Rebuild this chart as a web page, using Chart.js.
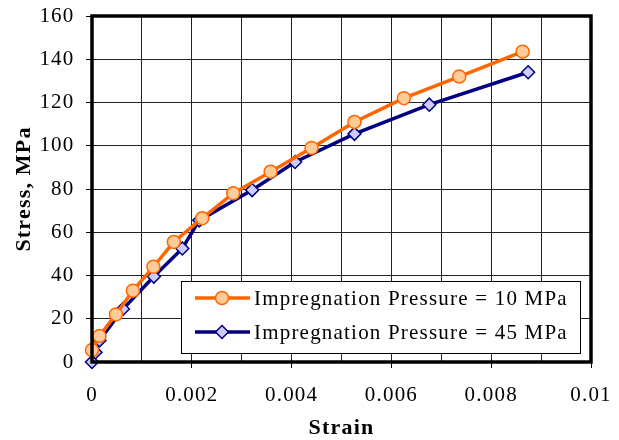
<!DOCTYPE html>
<html>
<head>
<meta charset="utf-8">
<script src="https://cdn.jsdelivr.net/npm/chart.js@4.4.0/dist/chart.umd.min.js"></script>
<style>
  html, body { margin: 0; padding: 0; background: #fff; }
</style>
</head>
<body>
<canvas id="stressChart" width="619" height="440"></canvas>
<script>
// Stress-strain readings for the two impregnation pressures
const strain10 = [0, 0.00015, 0.00048, 0.00082, 0.00123, 0.00164, 0.00221, 0.00283, 0.00358, 0.0044, 0.00526, 0.00625, 0.00736, 0.00863];
const stress10 = [5.5, 12, 22, 33, 44, 55.5, 66.5, 78, 88, 99, 111, 122, 132, 143.5];
const strain45 = [0, 0.00007, 0.00015, 0.00062, 0.00124, 0.00181, 0.00215, 0.00321, 0.00407, 0.00526, 0.00676, 0.00874];
const stress45 = [0, 4.5, 10, 24.5, 39.5, 52.5, 65.5, 79.5, 92.5, 105.5, 119, 134];
const seriesNames = ["Impregnation Pressure = 10 MPa", "Impregnation Pressure = 45 MPa"];

const xMin = 0, xMax = 0.01, xStep = 0.001;
const yMin = 0, yMax = 160, yStep = 20;

const SERIF = "'Liberation Serif', 'Times New Roman', serif";
const SPACING = "1.2px";

function toPoints(xs, ys) {
  return xs.map((x, i) => ({ x: x, y: ys[i] }));
}

// Wider letter spacing for every text drawn on the canvas
const spacingPlugin = {
  id: "letterSpacing",
  beforeUpdate(chart) { chart.ctx.letterSpacing = SPACING; },
  beforeDraw(chart) { chart.ctx.letterSpacing = SPACING; },
};

// Thick frame around the plot area plus the boxed legend inside it
const framePlugin = {
  id: "frameAndLegend",
  afterDatasetsDraw(chart) {
    const { ctx, chartArea } = chart;
    ctx.save();
    ctx.strokeStyle = "#000";
    ctx.lineWidth = 3.5;
    ctx.strokeRect(chartArea.left, chartArea.top,
      chartArea.right - chartArea.left, chartArea.bottom - chartArea.top);

    // legend box
    const bx = 181, by = 281, bw = 399, bh = 72;
    ctx.fillStyle = "#fff";
    ctx.fillRect(bx, by, bw, bh);
    ctx.lineWidth = 1;
    ctx.strokeStyle = "#000";
    ctx.strokeRect(bx + 0.5, by + 0.5, bw, bh);

    chart.data.datasets.forEach((ds, i) => {
      const y = by + 17 + i * 34;
      ctx.strokeStyle = ds.borderColor;
      ctx.lineWidth = ds.borderWidth;
      ctx.beginPath();
      ctx.moveTo(bx + 14, y);
      ctx.lineTo(bx + 69, y);
      ctx.stroke();

      const mx = bx + 41, r = ds.pointRadius;
      ctx.fillStyle = ds.pointBackgroundColor;
      ctx.strokeStyle = ds.pointBorderColor;
      ctx.lineWidth = ds.pointBorderWidth;
      ctx.beginPath();
      if (ds.pointStyle === "circle") {
        ctx.arc(mx, y, r, 0, Math.PI * 2);
      } else {
        ctx.moveTo(mx, y - r);
        ctx.lineTo(mx + r, y);
        ctx.lineTo(mx, y + r);
        ctx.lineTo(mx - r, y);
        ctx.closePath();
      }
      ctx.fill();
      ctx.stroke();

      ctx.fillStyle = "#000";
      ctx.font = "21px " + SERIF;
      ctx.letterSpacing = SPACING;
      ctx.textAlign = "left";
      ctx.textBaseline = "middle";
      ctx.fillText(ds.label, bx + 73, y + 1);
    });
    ctx.restore();
  }
};

new Chart(document.getElementById("stressChart"), {
  type: "scatter",
  data: {
    datasets: [
      {
        label: seriesNames[0],
        data: toPoints(strain10, stress10),
        showLine: true,
        clip: false,
        borderColor: "#ff6600",
        borderWidth: 3.5,
        pointStyle: "circle",
        pointRadius: 6.5,
        pointBackgroundColor: "#ffcc99",
        pointBorderColor: "#ff6600",
        pointBorderWidth: 1.5,
      },
      {
        label: seriesNames[1],
        data: toPoints(strain45, stress45),
        showLine: true,
        clip: false,
        borderColor: "#000080",
        borderWidth: 3.5,
        pointStyle: "rectRot",
        pointRadius: 6.5,
        pointBackgroundColor: "#ccccff",
        pointBorderColor: "#000080",
        pointBorderWidth: 1.5,
      },
    ],
  },
  options: {
    responsive: false,
    animation: false,
    layout: { padding: { left: 0, top: 16, right: 28, bottom: 0 } },
    plugins: {
      legend: { display: false },
      tooltip: { enabled: false },
    },
    scales: {
      x: {
        type: "linear",
        min: xMin,
        max: xMax,
        afterFit(scale) {
          scale.height = 78;
          scale.paddingLeft = 0;
          scale.paddingRight = 0;
        },
        ticks: {
          stepSize: xStep,
          maxTicksLimit: 20,
          autoSkip: false,
          maxRotation: 0,
          padding: 15,
          color: "#000",
          font: { family: SERIF, size: 21 },
          callback(value) {
            const k = Math.round(value * 1000);
            return k % 2 === 0 ? String(k / 1000) : "";
          },
        },
        grid: {
          color: "#222",
          lineWidth: 1,
          tickLength: 6,
          tickColor(ctx) {
            const k = Math.round(ctx.tick.value * 1000);
            return k % 2 === 0 ? "#000" : "rgba(0,0,0,0)";
          },
        },
        border: { display: false },
        title: {
          display: true,
          text: "Strain",
          color: "#000",
          font: { family: SERIF, size: 22, weight: "bold", lineHeight: 1.1 },
          padding: { top: 0, bottom: 0 },
        },
      },
      y: {
        type: "linear",
        min: yMin,
        max: yMax,
        afterFit(scale) {
          scale.width = 92;
          scale.paddingTop = 0;
          scale.paddingBottom = 0;
        },
        ticks: {
          stepSize: yStep,
          padding: 11.5,
          color: "#000",
          font: { family: SERIF, size: 21 },
        },
        grid: {
          color: "#222",
          lineWidth: 1,
          tickLength: 6,
          tickColor: "#000",
        },
        border: { display: false },
        title: {
          display: true,
          text: "Stress, MPa",
          color: "#000",
          font: { family: SERIF, size: 22, weight: "bold" },
          padding: { top: 11, bottom: 0 },
        },
      },
    },
  },
  plugins: [spacingPlugin, framePlugin],
});
</script>
</body>
</html>
